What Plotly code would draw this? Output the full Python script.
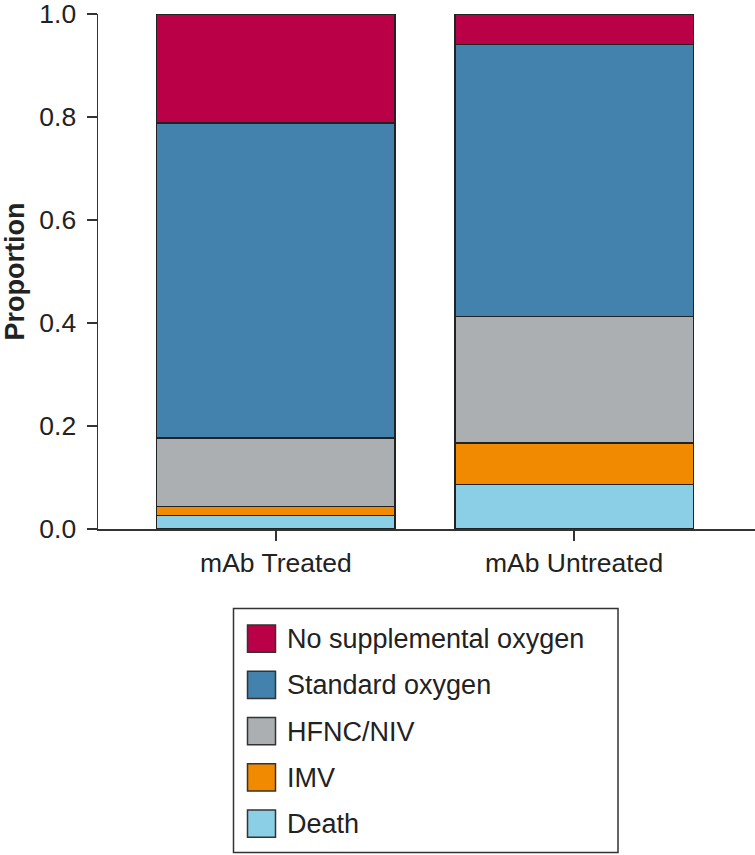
import plotly.graph_objects as go

categories = ["mAb Treated", "mAb Untreated"]
series_names = ["Death", "IMV", "HFNC/NIV", "Standard oxygen", "No supplemental oxygen"]
death = [0.026, 0.086]
imv = [0.018, 0.081]
hfnc = [0.133, 0.246]
standard = [0.611, 0.528]
no_supp = [0.212, 0.059]
colors = ["#8BCFE6", "#F28A00", "#ABAFB2", "#4282AD", "#BA0047"]

values = [death, imv, hfnc, standard, no_supp]

W, H = 755, 855
L, R, T, B = 98, 0, 14, 326
pw, ph = W - L - R, H - T - B

fig = go.Figure()
for name, vals, col in zip(series_names, values, colors):
    fig.add_trace(go.Bar(
        x=categories, y=vals, name=name,
        marker=dict(color=col, line=dict(color="#222222", width=1.5)),
        width=0.8, showlegend=False,
    ))

def px_x(p):
    return (p - L) / pw

def px_y(p):
    return (H - B - p) / ph

shapes = []
annotations = []
# legend box
shapes.append(dict(type="rect", xref="paper", yref="paper",
                   x0=px_x(233.5), x1=px_x(618), y0=px_y(852.5), y1=px_y(608.5),
                   line=dict(color="#333333", width=1.5), fillcolor="white"))
legend_order = list(zip(series_names, colors))[::-1]
for i, (name, col) in enumerate(legend_order):
    top = 625 + i * 46.25
    shapes.append(dict(type="rect", xref="paper", yref="paper",
                       x0=px_x(247.5), x1=px_x(275.5), y0=px_y(top + 27.3), y1=px_y(top),
                       line=dict(color="#333333", width=1.5), fillcolor=col))
    annotations.append(dict(xref="paper", yref="paper", x=px_x(285), y=px_y(top + 14),
                            xanchor="left", yanchor="middle", showarrow=False,
                            text=name, font=dict(size=27, color="#222222")))

fig.update_layout(
    template="none",
    width=W, height=H,
    margin=dict(l=L, r=R, t=T, b=B, pad=0),
    barmode="stack",
    plot_bgcolor="white", paper_bgcolor="white",
    font=dict(family="Liberation Sans, Arial, sans-serif", color="#222222"),
    shapes=shapes, annotations=annotations,
    showlegend=False,
)
fig.update_xaxes(
    range=[-0.597, 1.607], showline=True, linecolor="#333333", linewidth=1.5,
    ticks="outside", ticklen=10, tickwidth=1.5, tickcolor="#333333",
    tickfont=dict(size=26.5), showgrid=False, zeroline=False, automargin=False,
    ticklabelstandoff=0,
)
fig.update_yaxes(
    range=[0, 1], tickvals=[0, 0.2, 0.4, 0.6, 0.8, 1.0], tickformat=".1f",
    showline=True, linecolor="#333333", linewidth=1.5,
    ticks="outside", ticklen=10, tickwidth=1.5, tickcolor="#333333",
    tickfont=dict(size=26.5), showgrid=False, zeroline=False, automargin=False,
    ticklabelstandoff=5, ticklabeloverflow="allow",
    title=dict(text="<b>Proportion</b>", font=dict(size=27), standoff=24),
)

fig.write_html("out.html", config={"displayModeBar": False, "staticPlot": True},
               post_script="document.body.style.margin='0';document.body.style.overflow='hidden';")
